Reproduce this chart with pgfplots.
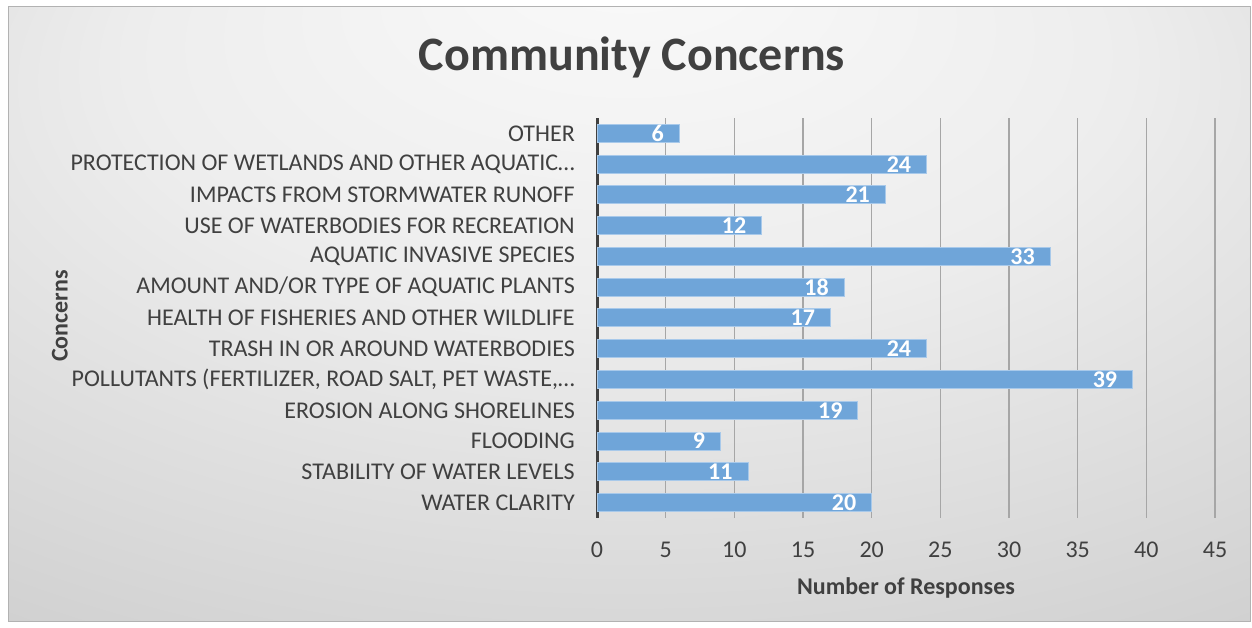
\documentclass[border=0pt]{standalone}
\usepackage{fontspec}
\setmainfont{Carlito}
\usepackage{pgfplots}
\pgfplotsset{compat=1.18}
\definecolor{txt}{HTML}{404040}
\definecolor{barc}{HTML}{6FA5D9}
\definecolor{barb}{HTML}{A8C9EA}
\definecolor{gridc}{HTML}{A6A6A6}
\pgfdeclareradialshading{bgshade}{\pgfpoint{0bp}{30bp}}{color(0bp)=(white!98!black); color(20bp)=(white!93!black); color(45bp)=(white!81!black); color(65bp)=(white!76!black)}
\begin{document}
\begin{tikzpicture}[x=1pt,y=1pt]
\useasboundingbox (0,0) rectangle (1252,628);
\fill[white] (0,0) rectangle (1252,628);
\shade[shading=bgshade] (8,6) rectangle (1250,621);
\draw[black!30, line width=1pt] (8,6) rectangle (1250,621);
\node[font=\bfseries\fontsize{48}{48}\selectfont, text=txt] at (632,571) {Community Concerns};
\begin{axis}[
  at={(597pt,110pt)}, anchor=south west,
  scale only axis, width=618pt, height=400pt,
  xbar, bar width=18pt,
  xmin=0, xmax=45, ymin=-0.5, ymax=12.5,
  xtick={0,5,...,45},
  ytick={0,...,12},
  yticklabels={{WATER CLARITY},{STABILITY OF WATER LEVELS},{FLOODING},{EROSION ALONG SHORELINES},{POLLUTANTS (FERTILIZER, ROAD SALT, PET WASTE,…},{TRASH IN OR AROUND WATERBODIES},{HEALTH OF FISHERIES AND OTHER WILDLIFE},{AMOUNT AND/OR TYPE OF AQUATIC PLANTS},{AQUATIC INVASIVE SPECIES},{USE OF WATERBODIES FOR RECREATION},{IMPACTS FROM STORMWATER RUNOFF},{PROTECTION OF WETLANDS AND OTHER AQUATIC…},{OTHER}},
  axis lines=left, axis line style={-},
  x axis line style={draw=none},
  y axis line style={draw=txt, line width=3pt},
  major tick length=0pt,
  xmajorgrids, major grid style={draw=gridc, line width=1.5pt},
  /pgf/number format/assume math mode=true,
  tick label style={text=txt, font=\fontsize{24}{24}\selectfont},
  yticklabel style={inner sep=0pt, anchor=east, xshift=-22pt},
  xticklabel style={inner sep=0pt, anchor=base, yshift=-39.5pt},
  xlabel={Number of Responses},
  xlabel style={at={(axis description cs:0.5,0)}, anchor=base, yshift=-77pt, font=\bfseries\fontsize{24}{24}\selectfont, text=txt},
  ylabel={Concerns},
  ylabel style={at={(axis description cs:-0.869,0.505)}, anchor=center, font=\bfseries\fontsize{24}{24}\selectfont, text=txt},
  nodes near coords,
  nodes near coords style={anchor=east, inner sep=0pt, xshift=-15pt, text=white, font=\bfseries\fontsize{24}{24}\selectfont},
]
\addplot[fill=barc, draw=barb, line width=1pt] coordinates {
(20,0) (11,1) (9,2) (19,3) (39,4) (24,5) (17,6) (18,7) (33,8) (12,9) (21,10) (24,11) (6,12)
};
\end{axis}
\end{tikzpicture}
\end{document}
